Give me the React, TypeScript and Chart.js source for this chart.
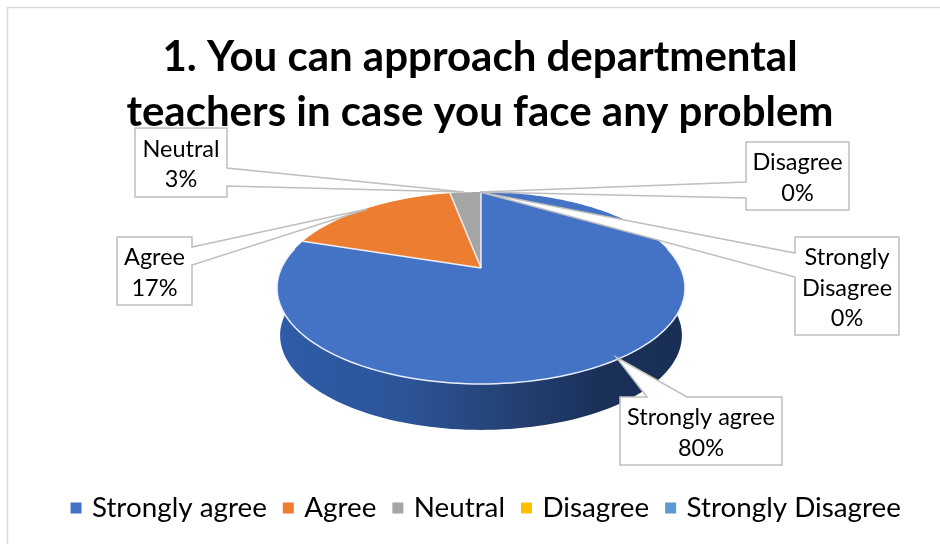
import React, { useEffect, useRef } from "react";
import { Chart, registerables } from "chart.js";

Chart.register(...registerables);

const categories = ["Strongly agree", "Agree", "Neutral", "Disagree", "Strongly Disagree"];
const values = [80, 17, 3, 0, 0];
const percentLabels = ["80%", "17%", "3%", "0%", "0%"];
const colors = ["#4472c4", "#ed7d31", "#a5a5a5", "#ffc000", "#5b9bd5"];
const titleLines = ["1. You can approach departmental", "teachers in case you face any problem"];

const FONT = "Lato, Carlito, sans-serif";
const CALLOUT_SIZE = 23.5;

// Perspective view of the pie's disc
const CX = 481, CY = 268, K = -0.2083, A = 91.8, B = 199.5;
const project = (angle: number) => {
  const x = Math.cos(angle), y = Math.sin(angle);
  const w = 1 + K * y;
  return { x: CX + (B * x) / w, y: CY + (A * y) / w };
};
const lower = (p: { x: number; y: number }) => ({
  x: CX + (p.x - CX) * 0.985,
  y: CY + (p.y - CY) * 0.985 + 47.7,
});

type Callout = {
  box: [number, number, number, number];
  from: [number, number, number];
  tip: [number, number];
  edge: "left" | "right" | "top";
  wrap?: string[];
};
const callouts: Callout[] = [
  { box: [620, 397, 782, 465], from: [647, 687, 397], tip: [616, 357], edge: "top" },
  { box: [117, 237, 192, 305], from: [247, 265, 192], tip: [367, 209], edge: "right" },
  { box: [135, 128, 227, 197], from: [168, 186, 227], tip: [464, 192], edge: "right" },
  { box: [746, 142, 849, 210], from: [182, 198, 746], tip: [480, 192], edge: "left" },
  { box: [795, 237, 899, 335], from: [253, 277, 795], tip: [480, 192], edge: "left", wrap: ["Strongly", "Disagree"] },
];

const pie3d = {
  id: "pie3d",
  afterLayout(chart: any) {
    chart.legend.left += 7.5;
    chart.legend.right += 7.5;
  },
  beforeDraw(chart: any) {
    const { ctx } = chart;
    ctx.save();
    ctx.fillStyle = "#ffffff";
    ctx.fillRect(0, 0, chart.width, chart.height);
    ctx.strokeStyle = "#d9d9d9";
    ctx.lineWidth = 1.5;
    ctx.beginPath();
    ctx.moveTo(7.5, chart.height);
    ctx.lineTo(7.5, 7.5);
    ctx.lineTo(chart.width, 7.5);
    ctx.stroke();
    ctx.restore();
  },
  beforeDatasetsDraw(chart: any) {
    const { ctx } = chart;
    const arcs = chart.getDatasetMeta(0).data;
    ctx.save();

    // side wall of the visible front edge
    const grad = ctx.createLinearGradient(280, 0, 682, 0);
    grad.addColorStop(0, "#2f5ca8");
    grad.addColorStop(0.3, "#2c5599");
    grad.addColorStop(0.6, "#233f70");
    grad.addColorStop(0.8, "#1a3059");
    grad.addColorStop(1, "#1a2f55");
    ctx.beginPath();
    const a0 = -0.22, a1 = Math.PI + 0.22, n = 120;
    for (let i = 0; i <= n; i++) {
      const p = project(a0 + ((a1 - a0) * i) / n);
      i ? ctx.lineTo(p.x, p.y) : ctx.moveTo(p.x, p.y);
    }
    for (let i = n; i >= 0; i--) {
      const p = lower(project(a0 + ((a1 - a0) * i) / n));
      ctx.lineTo(p.x, p.y);
    }
    ctx.closePath();
    ctx.fillStyle = grad;
    ctx.fill();

    // top face, from the arcs that the library laid out
    arcs.forEach((arc: any) => {
      const { startAngle, endAngle } = arc.getProps(["startAngle", "endAngle"], true);
      if (endAngle - startAngle < 1e-4) return;
      ctx.beginPath();
      ctx.moveTo(CX, CY);
      const steps = Math.max(8, Math.ceil((endAngle - startAngle) * 50));
      for (let i = 0; i <= steps; i++) {
        const p = project(startAngle + ((endAngle - startAngle) * i) / steps);
        ctx.lineTo(p.x, p.y);
      }
      ctx.closePath();
      ctx.fillStyle = arc.options.backgroundColor;
      ctx.fill();
    });

    // pale edges between the slices and along the front rim
    ctx.strokeStyle = "rgba(240,244,252,0.95)";
    ctx.lineWidth = 1.5;
    arcs.forEach((arc: any) => {
      const { startAngle, endAngle } = arc.getProps(["startAngle", "endAngle"], true);
      if (endAngle - startAngle < 1e-4) return;
      const p = project(startAngle);
      ctx.beginPath();
      ctx.moveTo(CX, CY);
      ctx.lineTo(p.x, p.y);
      ctx.stroke();
    });
    ctx.beginPath();
    for (let i = 0; i <= n; i++) {
      const p = project(a0 + ((a1 - a0) * i) / n);
      i ? ctx.lineTo(p.x, p.y) : ctx.moveTo(p.x, p.y);
    }
    ctx.stroke();

    // callouts
    callouts.forEach((c, idx) => {
      const [l, t, r, b] = c.box;
      ctx.beginPath();
      ctx.moveTo(l, t);
      if (c.edge === "top") {
        ctx.lineTo(c.from[0], t);
        ctx.lineTo(c.tip[0], c.tip[1]);
        ctx.lineTo(c.from[1], t);
      }
      ctx.lineTo(r, t);
      if (c.edge === "right") {
        ctx.lineTo(r, c.from[0]);
        ctx.lineTo(c.tip[0], c.tip[1]);
        ctx.lineTo(r, c.from[1]);
      }
      ctx.lineTo(r, b);
      ctx.lineTo(l, b);
      if (c.edge === "left") {
        ctx.lineTo(l, c.from[1]);
        ctx.lineTo(c.tip[0], c.tip[1]);
        ctx.lineTo(l, c.from[0]);
      }
      ctx.closePath();
      ctx.fillStyle = "#ffffff";
      ctx.fill();
      ctx.strokeStyle = "#bfbfbf";
      ctx.lineWidth = 1.5;
      ctx.stroke();

      const lines = [...(c.wrap ?? [categories[idx]]), percentLabels[idx]];
      ctx.fillStyle = "#000000";
      ctx.font = `${CALLOUT_SIZE}px ${FONT}`;
      ctx.textAlign = "center";
      ctx.textBaseline = "middle";
      const mid = (t + b) / 2 + 2;
      lines.forEach((txt, i) => {
        ctx.fillText(txt, (l + r) / 2, mid + (i - (lines.length - 1) / 2) * 30.5);
      });
    });
    ctx.restore();
    return false;
  },
};

export default function App() {
  const ref = useRef<HTMLCanvasElement | null>(null);
  useEffect(() => {
    if (!ref.current) return;
    const chart = new Chart(ref.current, {
      type: "pie",
      data: {
        labels: categories,
        datasets: [{ data: values, backgroundColor: colors, borderWidth: 0 }],
      },
      options: {
        animation: false,
        responsive: false,
        devicePixelRatio: 1,
        layout: { padding: { left: 20, right: 0, top: 0, bottom: 12 } },
        plugins: {
          tooltip: { enabled: false },
          title: {
            display: true,
            text: titleLines,
            color: "#000000",
            font: { family: FONT, size: 42, weight: "bold", lineHeight: 1.31 },
            padding: { top: 30, bottom: 6 },
          },
          legend: {
            display: true,
            position: "bottom",
            labels: {
              color: "#000000",
              font: { family: FONT, size: 27.8 },
              usePointStyle: true,
              pointStyle: "rect",
              boxWidth: 4,
              boxHeight: 11,
              padding: 19.5,
            },
          },
        },
      },
      plugins: [pie3d],
    } as any);
    return () => chart.destroy();
  }, []);
  return (
    <div style={{ position: "absolute", left: 0, top: 0, width: 940, height: 544 }}>
      <canvas ref={ref} width={940} height={544} style={{ display: "block" }} />
    </div>
  );
}
